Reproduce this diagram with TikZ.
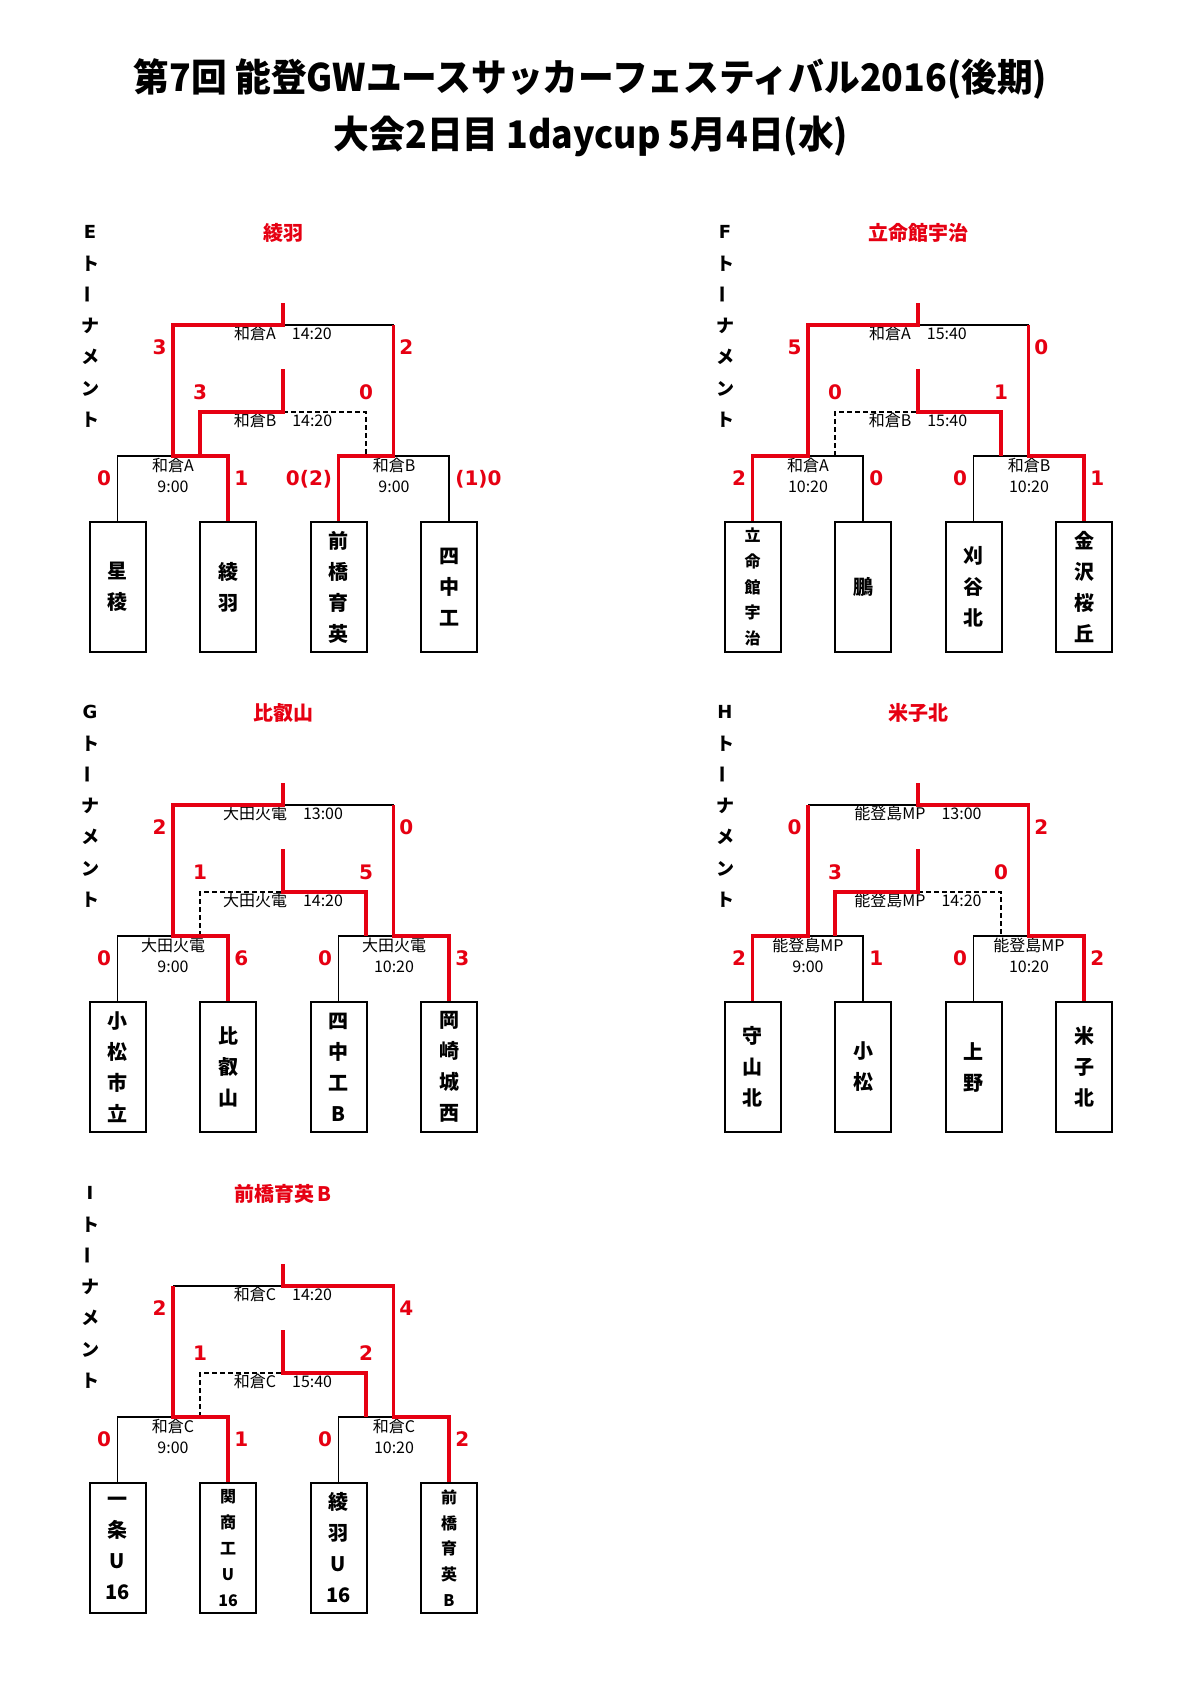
\documentclass[tikz,border=0pt]{standalone}
\usepackage{fontspec}
\setmainfont{DejaVu Sans}
\newfontfamily\jp{Noto Sans CJK JP}
\newfontfamily\dv{DejaVu Sans}
\definecolor{myred}{RGB}{230,0,18}
\tikzset{
 kline/.style={draw=black,line width=0.9pt},
 rline/.style={draw=myred,line width=1.65pt,line join=miter},
 dline/.style={draw=black,line width=0.9pt,dash pattern=on 2.6pt off 1.4pt},
 teambox/.style={draw=black,line width=1pt,minimum width=28pt,minimum height=65pt,inner sep=0pt,align=center,font=\jp\bfseries\fontsize{10}{15.5}\selectfont},
 smallteam/.style={font=\jp\bfseries\fontsize{8}{12.9}\selectfont},
 score/.style={text=myred,font=\dv\bfseries\fontsize{10}{12}\selectfont,inner sep=0pt,text height=7.3pt,text depth=0pt},
 venue/.style={font=\jp\fontsize{8}{10}\selectfont,inner sep=0pt},
 winner/.style={text=myred,font=\jp\bfseries\fontsize{10}{12}\selectfont,inner sep=0pt},
 vlab/.style={font=\jp\bfseries\fontsize{9}{10}\selectfont,inner sep=0pt},
 vlatin/.style={font=\dv\bfseries\fontsize{9}{10}\selectfont,inner sep=0pt},
 titletext/.style={font=\jp\bfseries\fontsize{19}{22}\selectfont,inner sep=0pt,xscale=0.94},
 Fo1/.style={smallteam},
 Io2/.style={smallteam},
 Io4/.style={smallteam},
}
% section frame: prefix, dx, dy, letter
\newcommand\mksection[4]{%
 \begin{scope}[shift={(#2,#3)}]
  \coordinate (#1ftop) at (283,303);
  \coordinate (#1fc) at (283,325);
  \coordinate (#1f1) at (173,325);
  \coordinate (#1f2) at (393.5,325);
  \coordinate (#1ttop) at (283,369);
  \coordinate (#1tc) at (283,412);
  \coordinate (#1t1) at (200,412);
  \coordinate (#1t2) at (366,412);
  \coordinate (#1t1b) at (200,456);
  \coordinate (#1t2b) at (366,456);
  \coordinate (#1m1) at (173,456);
  \coordinate (#1m2) at (393.5,456);
  \coordinate (#1a) at (117.5,456);
  \coordinate (#1b) at (228,456);
  \coordinate (#1c) at (338.5,456);
  \coordinate (#1d) at (449,456);
  \node[vlatin] (#1L0) at (90,232) {#4};
  \node[vlab] (#1L1) at (90,263.3) {ト};
  \node[vlab,rotate=90] (#1L2) at (90,294.6) {ー};
  \node[vlab] (#1L3) at (90,325.9) {ナ};
  \node[vlab] (#1L4) at (90,357.2) {メ};
  \node[vlab] (#1L5) at (90,388.5) {ン};
  \node[vlab] (#1L6) at (90,419.8) {ト};
 \end{scope}}
% teams: prefix, dx, dy, t1..t4, winner
\newcommand\teams[8]{%
 \begin{scope}[shift={(#2,#3)}]
  \node[teambox,#1o1/.try] (#11) at (117.5,587) {#4};
  \node[teambox,#1o2/.try] (#12) at (228,587) {#5};
  \node[teambox,#1o3/.try] (#13) at (338.5,587) {#6};
  \node[teambox,#1o4/.try] (#14) at (449,587) {#7};
  \node[winner] (#1w) at (283,233) {#8};
 \end{scope}}
% venues: prefix, final, third, r1 name, r1 time, r2 name, r2 time
\newcommand\venues[7]{%
  \node[venue] (#1v1) at (283,333) {#2};
  \node[venue] (#1v2) at (283,420) {#3};
  \node[venue] (#1v3) at (173,465) {#4};
  \node[venue] (#1v4) at (173,487) {#5};
  \node[venue] (#1v5) at (394,465) {#6};
  \node[venue] (#1v6) at (394,487) {#7};}
% scores: prefix, 8 scores
\newcommand\scores[9]{%
  \node[score,anchor=east] (#1s1) at (167,347) {#2};
  \node[score,anchor=west] (#1s2) at (399,347) {#3};
  \node[score] (#1s3) at (200,392) {#4};
  \node[score] (#1s4) at (366,392) {#5};
  \node[score,anchor=east] (#1s5) at (111.5,478) {#6};
  \node[score,anchor=west] (#1s6) at (234,478) {#7};
  \node[score,anchor=east] (#1s7) at (332.5,478) {#8};
  \node[score,anchor=west] (#1s8) at (455,478) {#9};}
\begin{document}
\begin{tikzpicture}[x=0.5pt,y=-0.5pt]
\useasboundingbox[fill=white] (0,0) rectangle (1191,1684);
\node[titletext] (title1) at (590.5,79) {第7回 能登GWユースサッカーフェスティバル2016(後期)};
\node[titletext] (title2) at (591,136) {大会2日目 1daycup 5月4日(水)};

% ---------- E ----------
\mksection{E}{0}{0}{E}
\teams{E}{0}{0}{星\\稜}{綾\\羽}{前\\橋\\育\\英}{四\\中\\工}{綾羽}
\begin{scope}
 \venues{E}{和倉A\quad 14:20}{和倉B\quad 14:20}{和倉A}{9:00}{和倉B}{9:00}
 \scores{E}{3}{2}{3}{0}{0}{1}{0(2)}{(1)0}
\end{scope}
\draw[kline] (E1.north) -- (Ea) -- (Em1);
\draw[kline] (Em2) -- (Ed) -- (E4.north);
\draw[kline] (Efc) -- (Ef2);
\draw[dline] (Etc) -- (Et2) -- (Et2b);
\draw[rline] (E2.north) -- (Eb) -- (Em1) -- (Ef1) -- (Efc) -- (Eftop);
\draw[rline] (Et1b) -- (Et1) -- (Etc) -- (Ettop);
\draw[rline] (E3.north) -- (Ec) -- (Em2) -- (Ef2);

% ---------- F ----------
\mksection{F}{635}{0}{F}
\teams{F}{635}{0}{立\\命\\館\\宇\\治}{鵬}{刈\\谷\\北}{金\\沢\\桜\\丘}{立命館宇治}
\begin{scope}[shift={(635,0)}]
 \venues{F}{和倉A\quad 15:40}{和倉B\quad 15:40}{和倉A}{10:20}{和倉B}{10:20}
 \scores{F}{5}{0}{0}{1}{2}{0}{0}{1}
\end{scope}
\draw[kline] (Fm1) -- (Fb) -- (F2.north);
\draw[kline] (F3.north) -- (Fc) -- (Fm2);
\draw[kline] (Ffc) -- (Ff2);
\draw[dline] (Ft1b) -- (Ft1) -- (Ftc);
\draw[rline] (F1.north) -- (Fa) -- (Fm1) -- (Ff1) -- (Ffc) -- (Fftop);
\draw[rline] (Fttop) -- (Ftc) -- (Ft2) -- (Ft2b);
\draw[rline] (F4.north) -- (Fd) -- (Fm2) -- (Ff2);

% ---------- G ----------
\mksection{G}{0}{480}{G}
\teams{G}{0}{480}{小\\松\\市\\立}{比\\叡\\山}{四\\中\\工\\B}{岡\\崎\\城\\西}{比叡山}
\begin{scope}[shift={(0,480)}]
 \venues{G}{大田火電\quad 13:00}{大田火電\quad 14:20}{大田火電}{9:00}{大田火電}{10:20}
 \scores{G}{2}{0}{1}{5}{0}{6}{0}{3}
\end{scope}
\draw[kline] (G1.north) -- (Ga) -- (Gm1);
\draw[kline] (G3.north) -- (Gc) -- (Gm2);
\draw[kline] (Gfc) -- (Gf2);
\draw[dline] (Gt1b) -- (Gt1) -- (Gtc);
\draw[rline] (G2.north) -- (Gb) -- (Gm1) -- (Gf1) -- (Gfc) -- (Gftop);
\draw[rline] (Gttop) -- (Gtc) -- (Gt2) -- (Gt2b);
\draw[rline] (G4.north) -- (Gd) -- (Gm2) -- (Gf2);

% ---------- H ----------
\mksection{H}{635}{480}{H}
\teams{H}{635}{480}{守\\山\\北}{小\\松}{上\\野}{米\\子\\北}{米子北}
\begin{scope}[shift={(635,480)}]
 \venues{H}{能登島MP\quad 13:00}{能登島MP\quad 14:20}{能登島MP}{9:00}{能登島MP}{10:20}
 \scores{H}{0}{2}{3}{0}{2}{1}{0}{2}
\end{scope}
\draw[kline] (Hf1) -- (Hfc);
\draw[kline] (Hm1) -- (Hb) -- (H2.north);
\draw[kline] (H3.north) -- (Hc) -- (Hm2);
\draw[dline] (Htc) -- (Ht2) -- (Ht2b);
\draw[rline] (H1.north) -- (Ha) -- (Hm1) -- (Hf1);
\draw[rline] (Hftop) -- (Hfc) -- (Hf2) -- (Hm2) -- (Hd) -- (H4.north);
\draw[rline] (Ht1b) -- (Ht1) -- (Htc) -- (Httop);

% ---------- I ----------
\mksection{I}{0}{961}{I}
\teams{I}{0}{961}{一\\条\\U\\16}{関\\商\\工\\U\\16}{綾\\羽\\U\\16}{前\\橋\\育\\英\\B}{前橋育英\hspace{1.5pt}B}
\begin{scope}[shift={(0,961)}]
 \venues{I}{和倉C\quad 14:20}{和倉C\quad 15:40}{和倉C}{9:00}{和倉C}{10:20}
 \scores{I}{2}{4}{1}{2}{0}{1}{0}{2}
\end{scope}
\draw[kline] (If1) -- (Ifc);
\draw[kline] (I1.north) -- (Ia) -- (Im1);
\draw[kline] (I3.north) -- (Ic) -- (Im2);
\draw[dline] (It1b) -- (It1) -- (Itc);
\draw[rline] (I2.north) -- (Ib) -- (Im1) -- (If1);
\draw[rline] (Iftop) -- (Ifc) -- (If2) -- (Im2) -- (Id) -- (I4.north);
\draw[rline] (Ittop) -- (Itc) -- (It2) -- (It2b);
\end{tikzpicture}
\end{document}
